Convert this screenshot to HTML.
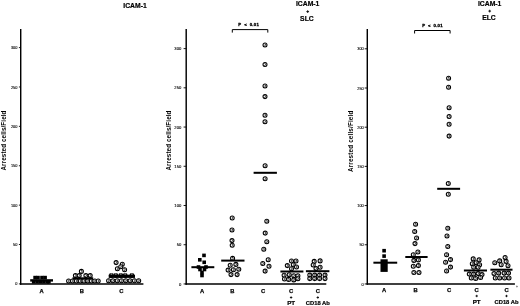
<!DOCTYPE html>
<html><head><meta charset="utf-8"><style>
html,body{margin:0;padding:0;background:#fff;}
svg{display:block;filter:blur(0.3px);}
</style></head><body>
<svg width="520" height="306" viewBox="0 0 520 306">
<rect width="520" height="306" fill="#fff"/>
<line x1="20.7" y1="29" x2="20.7" y2="284.7" stroke="#000" stroke-width="1.45"/>
<line x1="20.0" y1="283.9" x2="143.4" y2="283.9" stroke="#000" stroke-width="1.5"/>
<line x1="18.9" y1="283.90" x2="20.7" y2="283.90" stroke="#000" stroke-width="0.9"/>
<text x="0" y="0" font-size="4.4" text-anchor="end" font-family="Liberation Sans, sans-serif" stroke="#000" stroke-width="0.12" transform="translate(17.40 285.45) scale(0.88 1)">0</text>
<line x1="18.9" y1="244.51" x2="20.7" y2="244.51" stroke="#000" stroke-width="0.9"/>
<text x="0" y="0" font-size="4.4" text-anchor="end" font-family="Liberation Sans, sans-serif" stroke="#000" stroke-width="0.12" transform="translate(17.40 246.06) scale(0.88 1)">50</text>
<line x1="18.9" y1="205.13" x2="20.7" y2="205.13" stroke="#000" stroke-width="0.9"/>
<text x="0" y="0" font-size="4.4" text-anchor="end" font-family="Liberation Sans, sans-serif" stroke="#000" stroke-width="0.12" transform="translate(17.40 206.68) scale(0.88 1)">100</text>
<line x1="18.9" y1="165.75" x2="20.7" y2="165.75" stroke="#000" stroke-width="0.9"/>
<text x="0" y="0" font-size="4.4" text-anchor="end" font-family="Liberation Sans, sans-serif" stroke="#000" stroke-width="0.12" transform="translate(17.40 167.30) scale(0.88 1)">150</text>
<line x1="18.9" y1="126.36" x2="20.7" y2="126.36" stroke="#000" stroke-width="0.9"/>
<text x="0" y="0" font-size="4.4" text-anchor="end" font-family="Liberation Sans, sans-serif" stroke="#000" stroke-width="0.12" transform="translate(17.40 127.91) scale(0.88 1)">200</text>
<line x1="18.9" y1="86.97" x2="20.7" y2="86.97" stroke="#000" stroke-width="0.9"/>
<text x="0" y="0" font-size="4.4" text-anchor="end" font-family="Liberation Sans, sans-serif" stroke="#000" stroke-width="0.12" transform="translate(17.40 88.52) scale(0.88 1)">250</text>
<line x1="18.9" y1="47.59" x2="20.7" y2="47.59" stroke="#000" stroke-width="0.9"/>
<text x="0" y="0" font-size="4.4" text-anchor="end" font-family="Liberation Sans, sans-serif" stroke="#000" stroke-width="0.12" transform="translate(17.40 49.14) scale(0.88 1)">300</text>
<text transform="translate(5.5 140.5) rotate(-90)" text-anchor="middle" font-size="6.3" letter-spacing="0.1" font-family="Liberation Sans, sans-serif" font-weight="bold">Arrested cells/Field</text>
<text x="135" y="7.6" font-size="6.8" text-anchor="middle" font-family="Liberation Sans, sans-serif" font-weight="bold" stroke="#000" stroke-width="0.2">ICAM-1</text>
<text x="41.5" y="292.5" font-size="5.8" text-anchor="middle" font-family="Liberation Sans, sans-serif" font-weight="bold" stroke="#000" stroke-width="0.25">A</text>
<text x="81.9" y="292.5" font-size="5.8" text-anchor="middle" font-family="Liberation Sans, sans-serif" font-weight="bold" stroke="#000" stroke-width="0.25">B</text>
<text x="121.3" y="292.5" font-size="5.8" text-anchor="middle" font-family="Liberation Sans, sans-serif" font-weight="bold" stroke="#000" stroke-width="0.25">C</text>
<rect x="33.30" y="275.80" width="3.6" height="3.6" fill="#000"/>
<rect x="36.20" y="275.80" width="3.6" height="3.6" fill="#000"/>
<rect x="40.20" y="275.80" width="3.6" height="3.6" fill="#000"/>
<rect x="43.30" y="275.80" width="3.6" height="3.6" fill="#000"/>
<rect x="31.90" y="280.00" width="3.6" height="3.6" fill="#000"/>
<rect x="35.30" y="280.00" width="3.6" height="3.6" fill="#000"/>
<rect x="38.70" y="280.00" width="3.6" height="3.6" fill="#000"/>
<rect x="42.10" y="280.00" width="3.6" height="3.6" fill="#000"/>
<rect x="45.50" y="280.00" width="3.6" height="3.6" fill="#000"/>
<rect x="47.10" y="280.00" width="3.6" height="3.6" fill="#000"/>
<g transform="translate(81.40 271.40)"><circle r="2.0" fill="#fff" stroke="#000" stroke-width="1.05"/><path d="M-0.6 -1.0 Q0.9 -1.2 0.6 0 Q0.3 1.1 -0.6 1.0" fill="none" stroke="#111" stroke-width="0.8"/></g>
<g transform="translate(75.40 275.60)"><circle r="2.0" fill="#fff" stroke="#000" stroke-width="1.05"/><path d="M-0.6 -1.0 Q0.9 -1.2 0.6 0 Q0.3 1.1 -0.6 1.0" fill="none" stroke="#111" stroke-width="0.8"/></g>
<g transform="translate(79.20 275.60)"><circle r="2.0" fill="#fff" stroke="#000" stroke-width="1.05"/><path d="M-0.6 -1.0 Q0.9 -1.2 0.6 0 Q0.3 1.1 -0.6 1.0" fill="none" stroke="#111" stroke-width="0.8"/></g>
<g transform="translate(85.90 275.60)"><circle r="2.0" fill="#fff" stroke="#000" stroke-width="1.05"/><path d="M-0.6 -1.0 Q0.9 -1.2 0.6 0 Q0.3 1.1 -0.6 1.0" fill="none" stroke="#111" stroke-width="0.8"/></g>
<g transform="translate(90.20 275.60)"><circle r="2.0" fill="#fff" stroke="#000" stroke-width="1.05"/><path d="M-0.6 -1.0 Q0.9 -1.2 0.6 0 Q0.3 1.1 -0.6 1.0" fill="none" stroke="#111" stroke-width="0.8"/></g>
<g transform="translate(68.60 281.00)"><circle r="2.0" fill="#fff" stroke="#000" stroke-width="1.05"/><path d="M-0.6 -1.0 Q0.9 -1.2 0.6 0 Q0.3 1.1 -0.6 1.0" fill="none" stroke="#111" stroke-width="0.8"/></g>
<g transform="translate(72.50 281.00)"><circle r="2.0" fill="#fff" stroke="#000" stroke-width="1.05"/><path d="M-0.6 -1.0 Q0.9 -1.2 0.6 0 Q0.3 1.1 -0.6 1.0" fill="none" stroke="#111" stroke-width="0.8"/></g>
<g transform="translate(76.30 281.00)"><circle r="2.0" fill="#fff" stroke="#000" stroke-width="1.05"/><path d="M-0.6 -1.0 Q0.9 -1.2 0.6 0 Q0.3 1.1 -0.6 1.0" fill="none" stroke="#111" stroke-width="0.8"/></g>
<g transform="translate(80.20 281.00)"><circle r="2.0" fill="#fff" stroke="#000" stroke-width="1.05"/><path d="M-0.6 -1.0 Q0.9 -1.2 0.6 0 Q0.3 1.1 -0.6 1.0" fill="none" stroke="#111" stroke-width="0.8"/></g>
<g transform="translate(84.00 281.00)"><circle r="2.0" fill="#fff" stroke="#000" stroke-width="1.05"/><path d="M-0.6 -1.0 Q0.9 -1.2 0.6 0 Q0.3 1.1 -0.6 1.0" fill="none" stroke="#111" stroke-width="0.8"/></g>
<g transform="translate(87.80 281.00)"><circle r="2.0" fill="#fff" stroke="#000" stroke-width="1.05"/><path d="M-0.6 -1.0 Q0.9 -1.2 0.6 0 Q0.3 1.1 -0.6 1.0" fill="none" stroke="#111" stroke-width="0.8"/></g>
<g transform="translate(91.30 281.00)"><circle r="2.0" fill="#fff" stroke="#000" stroke-width="1.05"/><path d="M-0.6 -1.0 Q0.9 -1.2 0.6 0 Q0.3 1.1 -0.6 1.0" fill="none" stroke="#111" stroke-width="0.8"/></g>
<g transform="translate(94.80 281.00)"><circle r="2.0" fill="#fff" stroke="#000" stroke-width="1.05"/><path d="M-0.6 -1.0 Q0.9 -1.2 0.6 0 Q0.3 1.1 -0.6 1.0" fill="none" stroke="#111" stroke-width="0.8"/></g>
<g transform="translate(98.20 281.00)"><circle r="2.0" fill="#fff" stroke="#000" stroke-width="1.05"/><path d="M-0.6 -1.0 Q0.9 -1.2 0.6 0 Q0.3 1.1 -0.6 1.0" fill="none" stroke="#111" stroke-width="0.8"/></g>
<g transform="translate(116.10 262.60)"><circle r="2.0" fill="#fff" stroke="#000" stroke-width="1.05"/><path d="M-0.6 -1.0 Q0.9 -1.2 0.6 0 Q0.3 1.1 -0.6 1.0" fill="none" stroke="#111" stroke-width="0.8"/></g>
<g transform="translate(122.30 264.20)"><circle r="2.0" fill="#fff" stroke="#000" stroke-width="1.05"/><path d="M-0.6 -1.0 Q0.9 -1.2 0.6 0 Q0.3 1.1 -0.6 1.0" fill="none" stroke="#111" stroke-width="0.8"/></g>
<g transform="translate(117.40 268.80)"><circle r="2.0" fill="#fff" stroke="#000" stroke-width="1.05"/><path d="M-0.6 -1.0 Q0.9 -1.2 0.6 0 Q0.3 1.1 -0.6 1.0" fill="none" stroke="#111" stroke-width="0.8"/></g>
<g transform="translate(124.60 269.70)"><circle r="2.0" fill="#fff" stroke="#000" stroke-width="1.05"/><path d="M-0.6 -1.0 Q0.9 -1.2 0.6 0 Q0.3 1.1 -0.6 1.0" fill="none" stroke="#111" stroke-width="0.8"/></g>
<g transform="translate(120.80 266.80)"><circle r="2.0" fill="#fff" stroke="#000" stroke-width="1.05"/><path d="M-0.6 -1.0 Q0.9 -1.2 0.6 0 Q0.3 1.1 -0.6 1.0" fill="none" stroke="#111" stroke-width="0.8"/></g>
<g transform="translate(108.60 280.80)"><circle r="2.0" fill="#fff" stroke="#000" stroke-width="1.05"/><path d="M-0.6 -1.0 Q0.9 -1.2 0.6 0 Q0.3 1.1 -0.6 1.0" fill="none" stroke="#111" stroke-width="0.8"/></g>
<g transform="translate(112.90 280.80)"><circle r="2.0" fill="#fff" stroke="#000" stroke-width="1.05"/><path d="M-0.6 -1.0 Q0.9 -1.2 0.6 0 Q0.3 1.1 -0.6 1.0" fill="none" stroke="#111" stroke-width="0.8"/></g>
<g transform="translate(117.20 280.80)"><circle r="2.0" fill="#fff" stroke="#000" stroke-width="1.05"/><path d="M-0.6 -1.0 Q0.9 -1.2 0.6 0 Q0.3 1.1 -0.6 1.0" fill="none" stroke="#111" stroke-width="0.8"/></g>
<g transform="translate(121.50 280.80)"><circle r="2.0" fill="#fff" stroke="#000" stroke-width="1.05"/><path d="M-0.6 -1.0 Q0.9 -1.2 0.6 0 Q0.3 1.1 -0.6 1.0" fill="none" stroke="#111" stroke-width="0.8"/></g>
<g transform="translate(125.80 280.80)"><circle r="2.0" fill="#fff" stroke="#000" stroke-width="1.05"/><path d="M-0.6 -1.0 Q0.9 -1.2 0.6 0 Q0.3 1.1 -0.6 1.0" fill="none" stroke="#111" stroke-width="0.8"/></g>
<g transform="translate(130.10 280.80)"><circle r="2.0" fill="#fff" stroke="#000" stroke-width="1.05"/><path d="M-0.6 -1.0 Q0.9 -1.2 0.6 0 Q0.3 1.1 -0.6 1.0" fill="none" stroke="#111" stroke-width="0.8"/></g>
<g transform="translate(134.40 280.80)"><circle r="2.0" fill="#fff" stroke="#000" stroke-width="1.05"/><path d="M-0.6 -1.0 Q0.9 -1.2 0.6 0 Q0.3 1.1 -0.6 1.0" fill="none" stroke="#111" stroke-width="0.8"/></g>
<g transform="translate(138.70 280.80)"><circle r="2.0" fill="#fff" stroke="#000" stroke-width="1.05"/><path d="M-0.6 -1.0 Q0.9 -1.2 0.6 0 Q0.3 1.1 -0.6 1.0" fill="none" stroke="#111" stroke-width="0.8"/></g>
<circle cx="111.4" cy="275.5" r="2.45" fill="#000"/>
<circle cx="115.8" cy="275.5" r="2.45" fill="#000"/>
<circle cx="120.8" cy="275.5" r="2.45" fill="#000"/>
<circle cx="125.2" cy="275.5" r="2.45" fill="#000"/>
<circle cx="131.9" cy="275.5" r="2.45" fill="#000"/>
<line x1="186.2" y1="29" x2="186.2" y2="284.75" stroke="#000" stroke-width="1.45"/>
<line x1="185.5" y1="283.95" x2="326.3" y2="283.95" stroke="#000" stroke-width="1.5"/>
<line x1="183.6" y1="283.95" x2="186.2" y2="283.95" stroke="#000" stroke-width="0.9"/>
<text x="0" y="0" font-size="4.4" text-anchor="end" font-family="Liberation Sans, sans-serif" stroke="#000" stroke-width="0.12" transform="translate(181.30 285.50) scale(0.95 1)">0</text>
<line x1="183.6" y1="244.72" x2="186.2" y2="244.72" stroke="#000" stroke-width="0.9"/>
<text x="0" y="0" font-size="4.4" text-anchor="end" font-family="Liberation Sans, sans-serif" stroke="#000" stroke-width="0.12" transform="translate(181.30 246.28) scale(0.95 1)">50</text>
<line x1="183.6" y1="205.50" x2="186.2" y2="205.50" stroke="#000" stroke-width="0.9"/>
<text x="0" y="0" font-size="4.4" text-anchor="end" font-family="Liberation Sans, sans-serif" stroke="#000" stroke-width="0.12" transform="translate(181.30 207.05) scale(0.95 1)">100</text>
<line x1="183.6" y1="166.27" x2="186.2" y2="166.27" stroke="#000" stroke-width="0.9"/>
<text x="0" y="0" font-size="4.4" text-anchor="end" font-family="Liberation Sans, sans-serif" stroke="#000" stroke-width="0.12" transform="translate(181.30 167.82) scale(0.95 1)">150</text>
<line x1="183.6" y1="127.05" x2="186.2" y2="127.05" stroke="#000" stroke-width="0.9"/>
<text x="0" y="0" font-size="4.4" text-anchor="end" font-family="Liberation Sans, sans-serif" stroke="#000" stroke-width="0.12" transform="translate(181.30 128.60) scale(0.95 1)">200</text>
<line x1="183.6" y1="87.82" x2="186.2" y2="87.82" stroke="#000" stroke-width="0.9"/>
<text x="0" y="0" font-size="4.4" text-anchor="end" font-family="Liberation Sans, sans-serif" stroke="#000" stroke-width="0.12" transform="translate(181.30 89.37) scale(0.95 1)">250</text>
<line x1="183.6" y1="48.60" x2="186.2" y2="48.60" stroke="#000" stroke-width="0.9"/>
<text x="0" y="0" font-size="4.4" text-anchor="end" font-family="Liberation Sans, sans-serif" stroke="#000" stroke-width="0.12" transform="translate(181.30 50.15) scale(0.95 1)">300</text>
<text transform="translate(170.8 140.5) rotate(-90)" text-anchor="middle" font-size="6.3" letter-spacing="0.1" font-family="Liberation Sans, sans-serif" font-weight="bold">Arrested cells/Field</text>
<text x="307.7" y="6.3" font-size="6.8" text-anchor="middle" font-family="Liberation Sans, sans-serif" font-weight="bold" stroke="#000" stroke-width="0.2">ICAM-1</text>
<path d="M306.35 11.60 h2.70 M307.70 10.25 v2.70" stroke="#000" stroke-width="0.9"/>
<text x="306.9" y="21.0" font-size="6.8" text-anchor="middle" font-family="Liberation Sans, sans-serif" font-weight="bold" stroke="#000" stroke-width="0.2">SLC</text>
<text x="202" y="293.0" font-size="5.8" text-anchor="middle" font-family="Liberation Sans, sans-serif" font-weight="bold" stroke="#000" stroke-width="0.25">A</text>
<text x="232.3" y="293.0" font-size="5.8" text-anchor="middle" font-family="Liberation Sans, sans-serif" font-weight="bold" stroke="#000" stroke-width="0.25">B</text>
<text x="263" y="293.0" font-size="5.8" text-anchor="middle" font-family="Liberation Sans, sans-serif" font-weight="bold" stroke="#000" stroke-width="0.25">C</text>
<text x="291.1" y="293.2" font-size="5.8" text-anchor="middle" font-family="Liberation Sans, sans-serif" font-weight="bold" stroke="#000" stroke-width="0.25">C</text>
<path d="M289.90 297.50 h2.40 M291.10 296.30 v2.40" stroke="#000" stroke-width="0.85"/>
<text x="291.1" y="304.59999999999997" font-size="6.2" text-anchor="middle" font-family="Liberation Sans, sans-serif" font-weight="bold" stroke="#000" stroke-width="0.2">PT</text>
<text x="317.8" y="293.2" font-size="5.8" text-anchor="middle" font-family="Liberation Sans, sans-serif" font-weight="bold" stroke="#000" stroke-width="0.25">C</text>
<path d="M316.60 297.50 h2.40 M317.80 296.30 v2.40" stroke="#000" stroke-width="0.85"/>
<text x="317.8" y="304.59999999999997" font-size="5.8" text-anchor="middle" font-family="Liberation Sans, sans-serif" font-weight="bold" stroke="#000" stroke-width="0.2">CD18 Ab</text>
<path d="M232.3 32.6 V29.6 H267.8 V32.6" fill="none" stroke="#000" stroke-width="1.0"/>
<text x="248.8" y="25.7" font-size="4.3" text-anchor="middle" font-family="Liberation Sans, sans-serif" font-weight="bold" word-spacing="1.2" letter-spacing="0.3" stroke="#000" stroke-width="0.3">P &lt; 0.01</text>
<rect x="202.20" y="253.60" width="3.6" height="3.6" fill="#000"/>
<rect x="198.00" y="258.00" width="3.6" height="3.6" fill="#000"/>
<rect x="202.40" y="260.50" width="3.6" height="3.6" fill="#000"/>
<rect x="198.20" y="267.70" width="3.6" height="3.6" fill="#000"/>
<rect x="202.70" y="267.70" width="3.6" height="3.6" fill="#000"/>
<rect x="200.20" y="270.70" width="3.6" height="3.6" fill="#000"/>
<rect x="200.20" y="273.70" width="3.6" height="3.6" fill="#000"/>
<rect x="196.70" y="265.20" width="3.6" height="3.6" fill="#000"/>
<rect x="204.20" y="265.20" width="3.6" height="3.6" fill="#000"/>
<g transform="translate(232.20 217.90)"><circle r="2.0" fill="#fff" stroke="#000" stroke-width="1.05"/><path d="M-0.6 -1.0 Q0.9 -1.2 0.6 0 Q0.3 1.1 -0.6 1.0" fill="none" stroke="#111" stroke-width="0.8"/></g>
<g transform="translate(232.00 230.00)"><circle r="2.0" fill="#fff" stroke="#000" stroke-width="1.05"/><path d="M-0.6 -1.0 Q0.9 -1.2 0.6 0 Q0.3 1.1 -0.6 1.0" fill="none" stroke="#111" stroke-width="0.8"/></g>
<g transform="translate(232.00 240.60)"><circle r="2.0" fill="#fff" stroke="#000" stroke-width="1.05"/><path d="M-0.6 -1.0 Q0.9 -1.2 0.6 0 Q0.3 1.1 -0.6 1.0" fill="none" stroke="#111" stroke-width="0.8"/></g>
<g transform="translate(232.20 245.30)"><circle r="2.0" fill="#fff" stroke="#000" stroke-width="1.05"/><path d="M-0.6 -1.0 Q0.9 -1.2 0.6 0 Q0.3 1.1 -0.6 1.0" fill="none" stroke="#111" stroke-width="0.8"/></g>
<g transform="translate(232.60 258.40)"><circle r="2.0" fill="#fff" stroke="#000" stroke-width="1.05"/><path d="M-0.6 -1.0 Q0.9 -1.2 0.6 0 Q0.3 1.1 -0.6 1.0" fill="none" stroke="#111" stroke-width="0.8"/></g>
<g transform="translate(230.20 265.20)"><circle r="2.0" fill="#fff" stroke="#000" stroke-width="1.05"/><path d="M-0.6 -1.0 Q0.9 -1.2 0.6 0 Q0.3 1.1 -0.6 1.0" fill="none" stroke="#111" stroke-width="0.8"/></g>
<g transform="translate(235.90 264.40)"><circle r="2.0" fill="#fff" stroke="#000" stroke-width="1.05"/><path d="M-0.6 -1.0 Q0.9 -1.2 0.6 0 Q0.3 1.1 -0.6 1.0" fill="none" stroke="#111" stroke-width="0.8"/></g>
<g transform="translate(228.10 270.10)"><circle r="2.0" fill="#fff" stroke="#000" stroke-width="1.05"/><path d="M-0.6 -1.0 Q0.9 -1.2 0.6 0 Q0.3 1.1 -0.6 1.0" fill="none" stroke="#111" stroke-width="0.8"/></g>
<g transform="translate(233.40 269.70)"><circle r="2.0" fill="#fff" stroke="#000" stroke-width="1.05"/><path d="M-0.6 -1.0 Q0.9 -1.2 0.6 0 Q0.3 1.1 -0.6 1.0" fill="none" stroke="#111" stroke-width="0.8"/></g>
<g transform="translate(238.80 269.30)"><circle r="2.0" fill="#fff" stroke="#000" stroke-width="1.05"/><path d="M-0.6 -1.0 Q0.9 -1.2 0.6 0 Q0.3 1.1 -0.6 1.0" fill="none" stroke="#111" stroke-width="0.8"/></g>
<g transform="translate(231.00 274.60)"><circle r="2.0" fill="#fff" stroke="#000" stroke-width="1.05"/><path d="M-0.6 -1.0 Q0.9 -1.2 0.6 0 Q0.3 1.1 -0.6 1.0" fill="none" stroke="#111" stroke-width="0.8"/></g>
<g transform="translate(237.10 274.60)"><circle r="2.0" fill="#fff" stroke="#000" stroke-width="1.05"/><path d="M-0.6 -1.0 Q0.9 -1.2 0.6 0 Q0.3 1.1 -0.6 1.0" fill="none" stroke="#111" stroke-width="0.8"/></g>
<g transform="translate(265.00 44.90)"><circle r="2.0" fill="#fff" stroke="#000" stroke-width="1.05"/><path d="M-0.6 -1.0 Q0.9 -1.2 0.6 0 Q0.3 1.1 -0.6 1.0" fill="none" stroke="#111" stroke-width="0.8"/></g>
<g transform="translate(265.00 64.50)"><circle r="2.0" fill="#fff" stroke="#000" stroke-width="1.05"/><path d="M-0.6 -1.0 Q0.9 -1.2 0.6 0 Q0.3 1.1 -0.6 1.0" fill="none" stroke="#111" stroke-width="0.8"/></g>
<g transform="translate(265.00 86.00)"><circle r="2.0" fill="#fff" stroke="#000" stroke-width="1.05"/><path d="M-0.6 -1.0 Q0.9 -1.2 0.6 0 Q0.3 1.1 -0.6 1.0" fill="none" stroke="#111" stroke-width="0.8"/></g>
<g transform="translate(265.00 96.60)"><circle r="2.0" fill="#fff" stroke="#000" stroke-width="1.05"/><path d="M-0.6 -1.0 Q0.9 -1.2 0.6 0 Q0.3 1.1 -0.6 1.0" fill="none" stroke="#111" stroke-width="0.8"/></g>
<g transform="translate(265.00 115.20)"><circle r="2.0" fill="#fff" stroke="#000" stroke-width="1.05"/><path d="M-0.6 -1.0 Q0.9 -1.2 0.6 0 Q0.3 1.1 -0.6 1.0" fill="none" stroke="#111" stroke-width="0.8"/></g>
<g transform="translate(265.00 121.70)"><circle r="2.0" fill="#fff" stroke="#000" stroke-width="1.05"/><path d="M-0.6 -1.0 Q0.9 -1.2 0.6 0 Q0.3 1.1 -0.6 1.0" fill="none" stroke="#111" stroke-width="0.8"/></g>
<g transform="translate(265.10 165.80)"><circle r="2.0" fill="#fff" stroke="#000" stroke-width="1.05"/><path d="M-0.6 -1.0 Q0.9 -1.2 0.6 0 Q0.3 1.1 -0.6 1.0" fill="none" stroke="#111" stroke-width="0.8"/></g>
<g transform="translate(265.10 178.70)"><circle r="2.0" fill="#fff" stroke="#000" stroke-width="1.05"/><path d="M-0.6 -1.0 Q0.9 -1.2 0.6 0 Q0.3 1.1 -0.6 1.0" fill="none" stroke="#111" stroke-width="0.8"/></g>
<g transform="translate(266.80 221.30)"><circle r="2.0" fill="#fff" stroke="#000" stroke-width="1.05"/><path d="M-0.6 -1.0 Q0.9 -1.2 0.6 0 Q0.3 1.1 -0.6 1.0" fill="none" stroke="#111" stroke-width="0.8"/></g>
<g transform="translate(265.20 233.10)"><circle r="2.0" fill="#fff" stroke="#000" stroke-width="1.05"/><path d="M-0.6 -1.0 Q0.9 -1.2 0.6 0 Q0.3 1.1 -0.6 1.0" fill="none" stroke="#111" stroke-width="0.8"/></g>
<g transform="translate(266.80 241.80)"><circle r="2.0" fill="#fff" stroke="#000" stroke-width="1.05"/><path d="M-0.6 -1.0 Q0.9 -1.2 0.6 0 Q0.3 1.1 -0.6 1.0" fill="none" stroke="#111" stroke-width="0.8"/></g>
<g transform="translate(263.80 249.20)"><circle r="2.0" fill="#fff" stroke="#000" stroke-width="1.05"/><path d="M-0.6 -1.0 Q0.9 -1.2 0.6 0 Q0.3 1.1 -0.6 1.0" fill="none" stroke="#111" stroke-width="0.8"/></g>
<g transform="translate(268.20 259.70)"><circle r="2.0" fill="#fff" stroke="#000" stroke-width="1.05"/><path d="M-0.6 -1.0 Q0.9 -1.2 0.6 0 Q0.3 1.1 -0.6 1.0" fill="none" stroke="#111" stroke-width="0.8"/></g>
<g transform="translate(262.80 263.50)"><circle r="2.0" fill="#fff" stroke="#000" stroke-width="1.05"/><path d="M-0.6 -1.0 Q0.9 -1.2 0.6 0 Q0.3 1.1 -0.6 1.0" fill="none" stroke="#111" stroke-width="0.8"/></g>
<g transform="translate(269.00 266.30)"><circle r="2.0" fill="#fff" stroke="#000" stroke-width="1.05"/><path d="M-0.6 -1.0 Q0.9 -1.2 0.6 0 Q0.3 1.1 -0.6 1.0" fill="none" stroke="#111" stroke-width="0.8"/></g>
<g transform="translate(265.10 271.10)"><circle r="2.0" fill="#fff" stroke="#000" stroke-width="1.05"/><path d="M-0.6 -1.0 Q0.9 -1.2 0.6 0 Q0.3 1.1 -0.6 1.0" fill="none" stroke="#111" stroke-width="0.8"/></g>
<g transform="translate(291.50 261.00)"><circle r="2.0" fill="#fff" stroke="#000" stroke-width="1.05"/><path d="M-0.6 -1.0 Q0.9 -1.2 0.6 0 Q0.3 1.1 -0.6 1.0" fill="none" stroke="#111" stroke-width="0.8"/></g>
<g transform="translate(296.00 261.00)"><circle r="2.0" fill="#fff" stroke="#000" stroke-width="1.05"/><path d="M-0.6 -1.0 Q0.9 -1.2 0.6 0 Q0.3 1.1 -0.6 1.0" fill="none" stroke="#111" stroke-width="0.8"/></g>
<g transform="translate(287.30 265.60)"><circle r="2.0" fill="#fff" stroke="#000" stroke-width="1.05"/><path d="M-0.6 -1.0 Q0.9 -1.2 0.6 0 Q0.3 1.1 -0.6 1.0" fill="none" stroke="#111" stroke-width="0.8"/></g>
<g transform="translate(293.30 264.70)"><circle r="2.0" fill="#fff" stroke="#000" stroke-width="1.05"/><path d="M-0.6 -1.0 Q0.9 -1.2 0.6 0 Q0.3 1.1 -0.6 1.0" fill="none" stroke="#111" stroke-width="0.8"/></g>
<g transform="translate(296.50 267.00)"><circle r="2.0" fill="#fff" stroke="#000" stroke-width="1.05"/><path d="M-0.6 -1.0 Q0.9 -1.2 0.6 0 Q0.3 1.1 -0.6 1.0" fill="none" stroke="#111" stroke-width="0.8"/></g>
<g transform="translate(291.50 268.80)"><circle r="2.0" fill="#fff" stroke="#000" stroke-width="1.05"/><path d="M-0.6 -1.0 Q0.9 -1.2 0.6 0 Q0.3 1.1 -0.6 1.0" fill="none" stroke="#111" stroke-width="0.8"/></g>
<g transform="translate(284.10 275.30)"><circle r="2.0" fill="#fff" stroke="#000" stroke-width="1.05"/><path d="M-0.6 -1.0 Q0.9 -1.2 0.6 0 Q0.3 1.1 -0.6 1.0" fill="none" stroke="#111" stroke-width="0.8"/></g>
<g transform="translate(289.20 274.80)"><circle r="2.0" fill="#fff" stroke="#000" stroke-width="1.05"/><path d="M-0.6 -1.0 Q0.9 -1.2 0.6 0 Q0.3 1.1 -0.6 1.0" fill="none" stroke="#111" stroke-width="0.8"/></g>
<g transform="translate(293.80 275.70)"><circle r="2.0" fill="#fff" stroke="#000" stroke-width="1.05"/><path d="M-0.6 -1.0 Q0.9 -1.2 0.6 0 Q0.3 1.1 -0.6 1.0" fill="none" stroke="#111" stroke-width="0.8"/></g>
<g transform="translate(297.90 275.70)"><circle r="2.0" fill="#fff" stroke="#000" stroke-width="1.05"/><path d="M-0.6 -1.0 Q0.9 -1.2 0.6 0 Q0.3 1.1 -0.6 1.0" fill="none" stroke="#111" stroke-width="0.8"/></g>
<g transform="translate(288.70 279.40)"><circle r="2.0" fill="#fff" stroke="#000" stroke-width="1.05"/><path d="M-0.6 -1.0 Q0.9 -1.2 0.6 0 Q0.3 1.1 -0.6 1.0" fill="none" stroke="#111" stroke-width="0.8"/></g>
<g transform="translate(293.80 279.90)"><circle r="2.0" fill="#fff" stroke="#000" stroke-width="1.05"/><path d="M-0.6 -1.0 Q0.9 -1.2 0.6 0 Q0.3 1.1 -0.6 1.0" fill="none" stroke="#111" stroke-width="0.8"/></g>
<g transform="translate(297.90 278.80)"><circle r="2.0" fill="#fff" stroke="#000" stroke-width="1.05"/><path d="M-0.6 -1.0 Q0.9 -1.2 0.6 0 Q0.3 1.1 -0.6 1.0" fill="none" stroke="#111" stroke-width="0.8"/></g>
<g transform="translate(284.50 279.00)"><circle r="2.0" fill="#fff" stroke="#000" stroke-width="1.05"/><path d="M-0.6 -1.0 Q0.9 -1.2 0.6 0 Q0.3 1.1 -0.6 1.0" fill="none" stroke="#111" stroke-width="0.8"/></g>
<g transform="translate(314.20 261.40)"><circle r="2.0" fill="#fff" stroke="#000" stroke-width="1.05"/><path d="M-0.6 -1.0 Q0.9 -1.2 0.6 0 Q0.3 1.1 -0.6 1.0" fill="none" stroke="#111" stroke-width="0.8"/></g>
<g transform="translate(320.10 260.90)"><circle r="2.0" fill="#fff" stroke="#000" stroke-width="1.05"/><path d="M-0.6 -1.0 Q0.9 -1.2 0.6 0 Q0.3 1.1 -0.6 1.0" fill="none" stroke="#111" stroke-width="0.8"/></g>
<g transform="translate(313.20 265.00)"><circle r="2.0" fill="#fff" stroke="#000" stroke-width="1.05"/><path d="M-0.6 -1.0 Q0.9 -1.2 0.6 0 Q0.3 1.1 -0.6 1.0" fill="none" stroke="#111" stroke-width="0.8"/></g>
<g transform="translate(320.10 267.30)"><circle r="2.0" fill="#fff" stroke="#000" stroke-width="1.05"/><path d="M-0.6 -1.0 Q0.9 -1.2 0.6 0 Q0.3 1.1 -0.6 1.0" fill="none" stroke="#111" stroke-width="0.8"/></g>
<g transform="translate(316.00 268.50)"><circle r="2.0" fill="#fff" stroke="#000" stroke-width="1.05"/><path d="M-0.6 -1.0 Q0.9 -1.2 0.6 0 Q0.3 1.1 -0.6 1.0" fill="none" stroke="#111" stroke-width="0.8"/></g>
<g transform="translate(309.80 275.10)"><circle r="2.0" fill="#fff" stroke="#000" stroke-width="1.05"/><path d="M-0.6 -1.0 Q0.9 -1.2 0.6 0 Q0.3 1.1 -0.6 1.0" fill="none" stroke="#111" stroke-width="0.8"/></g>
<g transform="translate(314.70 275.10)"><circle r="2.0" fill="#fff" stroke="#000" stroke-width="1.05"/><path d="M-0.6 -1.0 Q0.9 -1.2 0.6 0 Q0.3 1.1 -0.6 1.0" fill="none" stroke="#111" stroke-width="0.8"/></g>
<g transform="translate(319.60 275.10)"><circle r="2.0" fill="#fff" stroke="#000" stroke-width="1.05"/><path d="M-0.6 -1.0 Q0.9 -1.2 0.6 0 Q0.3 1.1 -0.6 1.0" fill="none" stroke="#111" stroke-width="0.8"/></g>
<g transform="translate(325.00 275.10)"><circle r="2.0" fill="#fff" stroke="#000" stroke-width="1.05"/><path d="M-0.6 -1.0 Q0.9 -1.2 0.6 0 Q0.3 1.1 -0.6 1.0" fill="none" stroke="#111" stroke-width="0.8"/></g>
<g transform="translate(309.80 278.60)"><circle r="2.0" fill="#fff" stroke="#000" stroke-width="1.05"/><path d="M-0.6 -1.0 Q0.9 -1.2 0.6 0 Q0.3 1.1 -0.6 1.0" fill="none" stroke="#111" stroke-width="0.8"/></g>
<g transform="translate(314.70 278.60)"><circle r="2.0" fill="#fff" stroke="#000" stroke-width="1.05"/><path d="M-0.6 -1.0 Q0.9 -1.2 0.6 0 Q0.3 1.1 -0.6 1.0" fill="none" stroke="#111" stroke-width="0.8"/></g>
<g transform="translate(319.60 278.60)"><circle r="2.0" fill="#fff" stroke="#000" stroke-width="1.05"/><path d="M-0.6 -1.0 Q0.9 -1.2 0.6 0 Q0.3 1.1 -0.6 1.0" fill="none" stroke="#111" stroke-width="0.8"/></g>
<g transform="translate(325.00 278.60)"><circle r="2.0" fill="#fff" stroke="#000" stroke-width="1.05"/><path d="M-0.6 -1.0 Q0.9 -1.2 0.6 0 Q0.3 1.1 -0.6 1.0" fill="none" stroke="#111" stroke-width="0.8"/></g>
<line x1="367.3" y1="29" x2="367.3" y2="284.75" stroke="#000" stroke-width="1.45"/>
<line x1="366.6" y1="283.95" x2="514.9" y2="283.95" stroke="#000" stroke-width="1.5"/>
<line x1="364.7" y1="283.95" x2="367.3" y2="283.95" stroke="#000" stroke-width="0.9"/>
<text x="0" y="0" font-size="4.4" text-anchor="end" font-family="Liberation Sans, sans-serif" stroke="#000" stroke-width="0.12" transform="translate(363.70 285.50) scale(0.88 1)">0</text>
<line x1="364.7" y1="244.76" x2="367.3" y2="244.76" stroke="#000" stroke-width="0.9"/>
<text x="0" y="0" font-size="4.4" text-anchor="end" font-family="Liberation Sans, sans-serif" stroke="#000" stroke-width="0.12" transform="translate(363.70 246.31) scale(0.88 1)">50</text>
<line x1="364.7" y1="205.57" x2="367.3" y2="205.57" stroke="#000" stroke-width="0.9"/>
<text x="0" y="0" font-size="4.4" text-anchor="end" font-family="Liberation Sans, sans-serif" stroke="#000" stroke-width="0.12" transform="translate(363.70 207.12) scale(0.88 1)">100</text>
<line x1="364.7" y1="166.38" x2="367.3" y2="166.38" stroke="#000" stroke-width="0.9"/>
<text x="0" y="0" font-size="4.4" text-anchor="end" font-family="Liberation Sans, sans-serif" stroke="#000" stroke-width="0.12" transform="translate(363.70 167.93) scale(0.88 1)">150</text>
<line x1="364.7" y1="127.19" x2="367.3" y2="127.19" stroke="#000" stroke-width="0.9"/>
<text x="0" y="0" font-size="4.4" text-anchor="end" font-family="Liberation Sans, sans-serif" stroke="#000" stroke-width="0.12" transform="translate(363.70 128.74) scale(0.88 1)">200</text>
<line x1="364.7" y1="88.00" x2="367.3" y2="88.00" stroke="#000" stroke-width="0.9"/>
<text x="0" y="0" font-size="4.4" text-anchor="end" font-family="Liberation Sans, sans-serif" stroke="#000" stroke-width="0.12" transform="translate(363.70 89.55) scale(0.88 1)">250</text>
<line x1="364.7" y1="48.81" x2="367.3" y2="48.81" stroke="#000" stroke-width="0.9"/>
<text x="0" y="0" font-size="4.4" text-anchor="end" font-family="Liberation Sans, sans-serif" stroke="#000" stroke-width="0.12" transform="translate(363.70 50.36) scale(0.88 1)">300</text>
<text transform="translate(353.0 141.3) rotate(-90)" text-anchor="middle" font-size="6.3" letter-spacing="0.17" font-family="Liberation Sans, sans-serif" font-weight="bold">Arrested cells/Field</text>
<text x="489.7" y="6.2" font-size="6.8" text-anchor="middle" font-family="Liberation Sans, sans-serif" font-weight="bold" stroke="#000" stroke-width="0.2">ICAM-1</text>
<path d="M488.35 11.10 h2.70 M489.70 9.75 v2.70" stroke="#000" stroke-width="0.9"/>
<text x="489.0" y="19.9" font-size="6.8" text-anchor="middle" font-family="Liberation Sans, sans-serif" font-weight="bold" stroke="#000" stroke-width="0.2">ELC</text>
<text x="384.2" y="292.3" font-size="5.8" text-anchor="middle" font-family="Liberation Sans, sans-serif" font-weight="bold" stroke="#000" stroke-width="0.25">A</text>
<text x="415.7" y="292.3" font-size="5.8" text-anchor="middle" font-family="Liberation Sans, sans-serif" font-weight="bold" stroke="#000" stroke-width="0.25">B</text>
<text x="449" y="292.3" font-size="5.8" text-anchor="middle" font-family="Liberation Sans, sans-serif" font-weight="bold" stroke="#000" stroke-width="0.25">C</text>
<text x="476.7" y="292.1" font-size="5.8" text-anchor="middle" font-family="Liberation Sans, sans-serif" font-weight="bold" stroke="#000" stroke-width="0.25">C</text>
<path d="M475.50 296.00 h2.40 M476.70 294.80 v2.40" stroke="#000" stroke-width="0.85"/>
<text x="476.7" y="303.6" font-size="6.2" text-anchor="middle" font-family="Liberation Sans, sans-serif" font-weight="bold" stroke="#000" stroke-width="0.2">PT</text>
<text x="506.5" y="292.1" font-size="5.8" text-anchor="middle" font-family="Liberation Sans, sans-serif" font-weight="bold" stroke="#000" stroke-width="0.25">C</text>
<path d="M505.30 296.00 h2.40 M506.50 294.80 v2.40" stroke="#000" stroke-width="0.85"/>
<text x="506.5" y="303.6" font-size="5.8" text-anchor="middle" font-family="Liberation Sans, sans-serif" font-weight="bold" stroke="#000" stroke-width="0.2">CD18 Ab</text>
<path d="M414.6 33.5 V30.5 H450.1 V33.5" fill="none" stroke="#000" stroke-width="1.0"/>
<text x="432.6" y="26.5" font-size="4.3" text-anchor="middle" font-family="Liberation Sans, sans-serif" font-weight="bold" word-spacing="1.2" letter-spacing="0.3" stroke="#000" stroke-width="0.3">P &lt; 0.01</text>
<rect x="382.30" y="248.90" width="3.6" height="3.6" fill="#000"/>
<rect x="382.30" y="254.30" width="3.6" height="3.6" fill="#000"/>
<rect x="380.5" y="259.3" width="7.2" height="12.6" fill="#000"/>
<g transform="translate(415.60 224.30)"><circle r="2.0" fill="#fff" stroke="#000" stroke-width="1.05"/><path d="M-0.6 -1.0 Q0.9 -1.2 0.6 0 Q0.3 1.1 -0.6 1.0" fill="none" stroke="#111" stroke-width="0.8"/></g>
<g transform="translate(414.70 231.40)"><circle r="2.0" fill="#fff" stroke="#000" stroke-width="1.05"/><path d="M-0.6 -1.0 Q0.9 -1.2 0.6 0 Q0.3 1.1 -0.6 1.0" fill="none" stroke="#111" stroke-width="0.8"/></g>
<g transform="translate(416.60 237.90)"><circle r="2.0" fill="#fff" stroke="#000" stroke-width="1.05"/><path d="M-0.6 -1.0 Q0.9 -1.2 0.6 0 Q0.3 1.1 -0.6 1.0" fill="none" stroke="#111" stroke-width="0.8"/></g>
<g transform="translate(415.00 243.60)"><circle r="2.0" fill="#fff" stroke="#000" stroke-width="1.05"/><path d="M-0.6 -1.0 Q0.9 -1.2 0.6 0 Q0.3 1.1 -0.6 1.0" fill="none" stroke="#111" stroke-width="0.8"/></g>
<g transform="translate(417.90 251.90)"><circle r="2.0" fill="#fff" stroke="#000" stroke-width="1.05"/><path d="M-0.6 -1.0 Q0.9 -1.2 0.6 0 Q0.3 1.1 -0.6 1.0" fill="none" stroke="#111" stroke-width="0.8"/></g>
<g transform="translate(413.30 254.70)"><circle r="2.0" fill="#fff" stroke="#000" stroke-width="1.05"/><path d="M-0.6 -1.0 Q0.9 -1.2 0.6 0 Q0.3 1.1 -0.6 1.0" fill="none" stroke="#111" stroke-width="0.8"/></g>
<g transform="translate(413.90 260.40)"><circle r="2.0" fill="#fff" stroke="#000" stroke-width="1.05"/><path d="M-0.6 -1.0 Q0.9 -1.2 0.6 0 Q0.3 1.1 -0.6 1.0" fill="none" stroke="#111" stroke-width="0.8"/></g>
<g transform="translate(418.40 259.90)"><circle r="2.0" fill="#fff" stroke="#000" stroke-width="1.05"/><path d="M-0.6 -1.0 Q0.9 -1.2 0.6 0 Q0.3 1.1 -0.6 1.0" fill="none" stroke="#111" stroke-width="0.8"/></g>
<g transform="translate(413.30 266.20)"><circle r="2.0" fill="#fff" stroke="#000" stroke-width="1.05"/><path d="M-0.6 -1.0 Q0.9 -1.2 0.6 0 Q0.3 1.1 -0.6 1.0" fill="none" stroke="#111" stroke-width="0.8"/></g>
<g transform="translate(418.40 265.60)"><circle r="2.0" fill="#fff" stroke="#000" stroke-width="1.05"/><path d="M-0.6 -1.0 Q0.9 -1.2 0.6 0 Q0.3 1.1 -0.6 1.0" fill="none" stroke="#111" stroke-width="0.8"/></g>
<g transform="translate(413.90 272.50)"><circle r="2.0" fill="#fff" stroke="#000" stroke-width="1.05"/><path d="M-0.6 -1.0 Q0.9 -1.2 0.6 0 Q0.3 1.1 -0.6 1.0" fill="none" stroke="#111" stroke-width="0.8"/></g>
<g transform="translate(419.00 272.50)"><circle r="2.0" fill="#fff" stroke="#000" stroke-width="1.05"/><path d="M-0.6 -1.0 Q0.9 -1.2 0.6 0 Q0.3 1.1 -0.6 1.0" fill="none" stroke="#111" stroke-width="0.8"/></g>
<g transform="translate(448.60 78.30)"><circle r="2.0" fill="#fff" stroke="#000" stroke-width="1.05"/><path d="M-0.6 -1.0 Q0.9 -1.2 0.6 0 Q0.3 1.1 -0.6 1.0" fill="none" stroke="#111" stroke-width="0.8"/></g>
<g transform="translate(448.60 87.20)"><circle r="2.0" fill="#fff" stroke="#000" stroke-width="1.05"/><path d="M-0.6 -1.0 Q0.9 -1.2 0.6 0 Q0.3 1.1 -0.6 1.0" fill="none" stroke="#111" stroke-width="0.8"/></g>
<g transform="translate(449.10 107.80)"><circle r="2.0" fill="#fff" stroke="#000" stroke-width="1.05"/><path d="M-0.6 -1.0 Q0.9 -1.2 0.6 0 Q0.3 1.1 -0.6 1.0" fill="none" stroke="#111" stroke-width="0.8"/></g>
<g transform="translate(449.10 116.40)"><circle r="2.0" fill="#fff" stroke="#000" stroke-width="1.05"/><path d="M-0.6 -1.0 Q0.9 -1.2 0.6 0 Q0.3 1.1 -0.6 1.0" fill="none" stroke="#111" stroke-width="0.8"/></g>
<g transform="translate(449.10 124.20)"><circle r="2.0" fill="#fff" stroke="#000" stroke-width="1.05"/><path d="M-0.6 -1.0 Q0.9 -1.2 0.6 0 Q0.3 1.1 -0.6 1.0" fill="none" stroke="#111" stroke-width="0.8"/></g>
<g transform="translate(449.10 136.10)"><circle r="2.0" fill="#fff" stroke="#000" stroke-width="1.05"/><path d="M-0.6 -1.0 Q0.9 -1.2 0.6 0 Q0.3 1.1 -0.6 1.0" fill="none" stroke="#111" stroke-width="0.8"/></g>
<g transform="translate(448.30 183.50)"><circle r="2.0" fill="#fff" stroke="#000" stroke-width="1.05"/><path d="M-0.6 -1.0 Q0.9 -1.2 0.6 0 Q0.3 1.1 -0.6 1.0" fill="none" stroke="#111" stroke-width="0.8"/></g>
<g transform="translate(448.30 194.20)"><circle r="2.0" fill="#fff" stroke="#000" stroke-width="1.05"/><path d="M-0.6 -1.0 Q0.9 -1.2 0.6 0 Q0.3 1.1 -0.6 1.0" fill="none" stroke="#111" stroke-width="0.8"/></g>
<g transform="translate(447.80 228.20)"><circle r="2.0" fill="#fff" stroke="#000" stroke-width="1.05"/><path d="M-0.6 -1.0 Q0.9 -1.2 0.6 0 Q0.3 1.1 -0.6 1.0" fill="none" stroke="#111" stroke-width="0.8"/></g>
<g transform="translate(447.00 235.90)"><circle r="2.0" fill="#fff" stroke="#000" stroke-width="1.05"/><path d="M-0.6 -1.0 Q0.9 -1.2 0.6 0 Q0.3 1.1 -0.6 1.0" fill="none" stroke="#111" stroke-width="0.8"/></g>
<g transform="translate(447.80 246.50)"><circle r="2.0" fill="#fff" stroke="#000" stroke-width="1.05"/><path d="M-0.6 -1.0 Q0.9 -1.2 0.6 0 Q0.3 1.1 -0.6 1.0" fill="none" stroke="#111" stroke-width="0.8"/></g>
<g transform="translate(446.60 254.70)"><circle r="2.0" fill="#fff" stroke="#000" stroke-width="1.05"/><path d="M-0.6 -1.0 Q0.9 -1.2 0.6 0 Q0.3 1.1 -0.6 1.0" fill="none" stroke="#111" stroke-width="0.8"/></g>
<g transform="translate(450.50 259.60)"><circle r="2.0" fill="#fff" stroke="#000" stroke-width="1.05"/><path d="M-0.6 -1.0 Q0.9 -1.2 0.6 0 Q0.3 1.1 -0.6 1.0" fill="none" stroke="#111" stroke-width="0.8"/></g>
<g transform="translate(445.60 262.20)"><circle r="2.0" fill="#fff" stroke="#000" stroke-width="1.05"/><path d="M-0.6 -1.0 Q0.9 -1.2 0.6 0 Q0.3 1.1 -0.6 1.0" fill="none" stroke="#111" stroke-width="0.8"/></g>
<g transform="translate(450.50 267.10)"><circle r="2.0" fill="#fff" stroke="#000" stroke-width="1.05"/><path d="M-0.6 -1.0 Q0.9 -1.2 0.6 0 Q0.3 1.1 -0.6 1.0" fill="none" stroke="#111" stroke-width="0.8"/></g>
<g transform="translate(446.60 271.00)"><circle r="2.0" fill="#fff" stroke="#000" stroke-width="1.05"/><path d="M-0.6 -1.0 Q0.9 -1.2 0.6 0 Q0.3 1.1 -0.6 1.0" fill="none" stroke="#111" stroke-width="0.8"/></g>
<g transform="translate(473.20 258.90)"><circle r="2.0" fill="#fff" stroke="#000" stroke-width="1.05"/><path d="M-0.6 -1.0 Q0.9 -1.2 0.6 0 Q0.3 1.1 -0.6 1.0" fill="none" stroke="#111" stroke-width="0.8"/></g>
<g transform="translate(479.10 259.90)"><circle r="2.0" fill="#fff" stroke="#000" stroke-width="1.05"/><path d="M-0.6 -1.0 Q0.9 -1.2 0.6 0 Q0.3 1.1 -0.6 1.0" fill="none" stroke="#111" stroke-width="0.8"/></g>
<g transform="translate(472.30 263.80)"><circle r="2.0" fill="#fff" stroke="#000" stroke-width="1.05"/><path d="M-0.6 -1.0 Q0.9 -1.2 0.6 0 Q0.3 1.1 -0.6 1.0" fill="none" stroke="#111" stroke-width="0.8"/></g>
<g transform="translate(476.20 262.80)"><circle r="2.0" fill="#fff" stroke="#000" stroke-width="1.05"/><path d="M-0.6 -1.0 Q0.9 -1.2 0.6 0 Q0.3 1.1 -0.6 1.0" fill="none" stroke="#111" stroke-width="0.8"/></g>
<g transform="translate(479.60 264.80)"><circle r="2.0" fill="#fff" stroke="#000" stroke-width="1.05"/><path d="M-0.6 -1.0 Q0.9 -1.2 0.6 0 Q0.3 1.1 -0.6 1.0" fill="none" stroke="#111" stroke-width="0.8"/></g>
<g transform="translate(473.70 267.30)"><circle r="2.0" fill="#fff" stroke="#000" stroke-width="1.05"/><path d="M-0.6 -1.0 Q0.9 -1.2 0.6 0 Q0.3 1.1 -0.6 1.0" fill="none" stroke="#111" stroke-width="0.8"/></g>
<g transform="translate(478.10 267.30)"><circle r="2.0" fill="#fff" stroke="#000" stroke-width="1.05"/><path d="M-0.6 -1.0 Q0.9 -1.2 0.6 0 Q0.3 1.1 -0.6 1.0" fill="none" stroke="#111" stroke-width="0.8"/></g>
<g transform="translate(469.30 274.10)"><circle r="2.0" fill="#fff" stroke="#000" stroke-width="1.05"/><path d="M-0.6 -1.0 Q0.9 -1.2 0.6 0 Q0.3 1.1 -0.6 1.0" fill="none" stroke="#111" stroke-width="0.8"/></g>
<g transform="translate(473.70 274.10)"><circle r="2.0" fill="#fff" stroke="#000" stroke-width="1.05"/><path d="M-0.6 -1.0 Q0.9 -1.2 0.6 0 Q0.3 1.1 -0.6 1.0" fill="none" stroke="#111" stroke-width="0.8"/></g>
<g transform="translate(478.10 273.60)"><circle r="2.0" fill="#fff" stroke="#000" stroke-width="1.05"/><path d="M-0.6 -1.0 Q0.9 -1.2 0.6 0 Q0.3 1.1 -0.6 1.0" fill="none" stroke="#111" stroke-width="0.8"/></g>
<g transform="translate(482.00 274.60)"><circle r="2.0" fill="#fff" stroke="#000" stroke-width="1.05"/><path d="M-0.6 -1.0 Q0.9 -1.2 0.6 0 Q0.3 1.1 -0.6 1.0" fill="none" stroke="#111" stroke-width="0.8"/></g>
<g transform="translate(471.30 278.00)"><circle r="2.0" fill="#fff" stroke="#000" stroke-width="1.05"/><path d="M-0.6 -1.0 Q0.9 -1.2 0.6 0 Q0.3 1.1 -0.6 1.0" fill="none" stroke="#111" stroke-width="0.8"/></g>
<g transform="translate(475.70 278.50)"><circle r="2.0" fill="#fff" stroke="#000" stroke-width="1.05"/><path d="M-0.6 -1.0 Q0.9 -1.2 0.6 0 Q0.3 1.1 -0.6 1.0" fill="none" stroke="#111" stroke-width="0.8"/></g>
<g transform="translate(480.60 277.50)"><circle r="2.0" fill="#fff" stroke="#000" stroke-width="1.05"/><path d="M-0.6 -1.0 Q0.9 -1.2 0.6 0 Q0.3 1.1 -0.6 1.0" fill="none" stroke="#111" stroke-width="0.8"/></g>
<g transform="translate(505.10 257.50)"><circle r="2.0" fill="#fff" stroke="#000" stroke-width="1.05"/><path d="M-0.6 -1.0 Q0.9 -1.2 0.6 0 Q0.3 1.1 -0.6 1.0" fill="none" stroke="#111" stroke-width="0.8"/></g>
<g transform="translate(499.70 260.90)"><circle r="2.0" fill="#fff" stroke="#000" stroke-width="1.05"/><path d="M-0.6 -1.0 Q0.9 -1.2 0.6 0 Q0.3 1.1 -0.6 1.0" fill="none" stroke="#111" stroke-width="0.8"/></g>
<g transform="translate(506.10 261.40)"><circle r="2.0" fill="#fff" stroke="#000" stroke-width="1.05"/><path d="M-0.6 -1.0 Q0.9 -1.2 0.6 0 Q0.3 1.1 -0.6 1.0" fill="none" stroke="#111" stroke-width="0.8"/></g>
<g transform="translate(494.80 262.80)"><circle r="2.0" fill="#fff" stroke="#000" stroke-width="1.05"/><path d="M-0.6 -1.0 Q0.9 -1.2 0.6 0 Q0.3 1.1 -0.6 1.0" fill="none" stroke="#111" stroke-width="0.8"/></g>
<g transform="translate(501.20 264.80)"><circle r="2.0" fill="#fff" stroke="#000" stroke-width="1.05"/><path d="M-0.6 -1.0 Q0.9 -1.2 0.6 0 Q0.3 1.1 -0.6 1.0" fill="none" stroke="#111" stroke-width="0.8"/></g>
<g transform="translate(508.00 265.80)"><circle r="2.0" fill="#fff" stroke="#000" stroke-width="1.05"/><path d="M-0.6 -1.0 Q0.9 -1.2 0.6 0 Q0.3 1.1 -0.6 1.0" fill="none" stroke="#111" stroke-width="0.8"/></g>
<g transform="translate(498.70 273.10)"><circle r="2.0" fill="#fff" stroke="#000" stroke-width="1.05"/><path d="M-0.6 -1.0 Q0.9 -1.2 0.6 0 Q0.3 1.1 -0.6 1.0" fill="none" stroke="#111" stroke-width="0.8"/></g>
<g transform="translate(504.10 273.10)"><circle r="2.0" fill="#fff" stroke="#000" stroke-width="1.05"/><path d="M-0.6 -1.0 Q0.9 -1.2 0.6 0 Q0.3 1.1 -0.6 1.0" fill="none" stroke="#111" stroke-width="0.8"/></g>
<g transform="translate(508.50 273.10)"><circle r="2.0" fill="#fff" stroke="#000" stroke-width="1.05"/><path d="M-0.6 -1.0 Q0.9 -1.2 0.6 0 Q0.3 1.1 -0.6 1.0" fill="none" stroke="#111" stroke-width="0.8"/></g>
<g transform="translate(495.30 278.00)"><circle r="2.0" fill="#fff" stroke="#000" stroke-width="1.05"/><path d="M-0.6 -1.0 Q0.9 -1.2 0.6 0 Q0.3 1.1 -0.6 1.0" fill="none" stroke="#111" stroke-width="0.8"/></g>
<g transform="translate(499.70 278.00)"><circle r="2.0" fill="#fff" stroke="#000" stroke-width="1.05"/><path d="M-0.6 -1.0 Q0.9 -1.2 0.6 0 Q0.3 1.1 -0.6 1.0" fill="none" stroke="#111" stroke-width="0.8"/></g>
<g transform="translate(504.60 278.00)"><circle r="2.0" fill="#fff" stroke="#000" stroke-width="1.05"/><path d="M-0.6 -1.0 Q0.9 -1.2 0.6 0 Q0.3 1.1 -0.6 1.0" fill="none" stroke="#111" stroke-width="0.8"/></g>
<g transform="translate(509.00 278.00)"><circle r="2.0" fill="#fff" stroke="#000" stroke-width="1.05"/><path d="M-0.6 -1.0 Q0.9 -1.2 0.6 0 Q0.3 1.1 -0.6 1.0" fill="none" stroke="#111" stroke-width="0.8"/></g>
<g transform="translate(494.00 273.50)"><circle r="2.0" fill="#fff" stroke="#000" stroke-width="1.05"/><path d="M-0.6 -1.0 Q0.9 -1.2 0.6 0 Q0.3 1.1 -0.6 1.0" fill="none" stroke="#111" stroke-width="0.8"/></g>
<text x="516" y="287.6" font-size="3" font-family="Liberation Sans, sans-serif" font-weight="bold">&#187;</text>
<rect x="30.20" y="279.20" width="22.80" height="2.4" fill="#000"/>
<rect x="72.50" y="277.30" width="20.70" height="2.0" fill="#000"/>
<rect x="108.70" y="274.70" width="26.30" height="3.2" fill="#000"/>
<ellipse cx="111.4" cy="274.0" rx="1.1" ry="0.45" fill="#fff"/>
<ellipse cx="115.8" cy="274.0" rx="1.1" ry="0.45" fill="#fff"/>
<ellipse cx="120.8" cy="274.0" rx="1.1" ry="0.45" fill="#fff"/>
<ellipse cx="125.2" cy="274.0" rx="1.1" ry="0.45" fill="#fff"/>
<ellipse cx="131.9" cy="274.0" rx="1.1" ry="0.45" fill="#fff"/>
<rect x="191.40" y="266.20" width="22.90" height="2.0" fill="#000"/>
<rect x="221.20" y="259.60" width="23.30" height="2.0" fill="#000"/>
<rect x="253.60" y="171.80" width="23.30" height="2.0" fill="#000"/>
<rect x="280.40" y="270.50" width="23.00" height="2.0" fill="#000"/>
<rect x="305.90" y="270.20" width="23.50" height="2.0" fill="#000"/>
<rect x="373.40" y="261.70" width="23.80" height="2.0" fill="#000"/>
<rect x="405.30" y="256.00" width="22.30" height="2.0" fill="#000"/>
<rect x="437.20" y="187.80" width="22.90" height="2.0" fill="#000"/>
<rect x="463.90" y="269.50" width="23.10" height="2.0" fill="#000"/>
<rect x="490.40" y="268.70" width="22.10" height="2.0" fill="#000"/>
</svg>
</body></html>
